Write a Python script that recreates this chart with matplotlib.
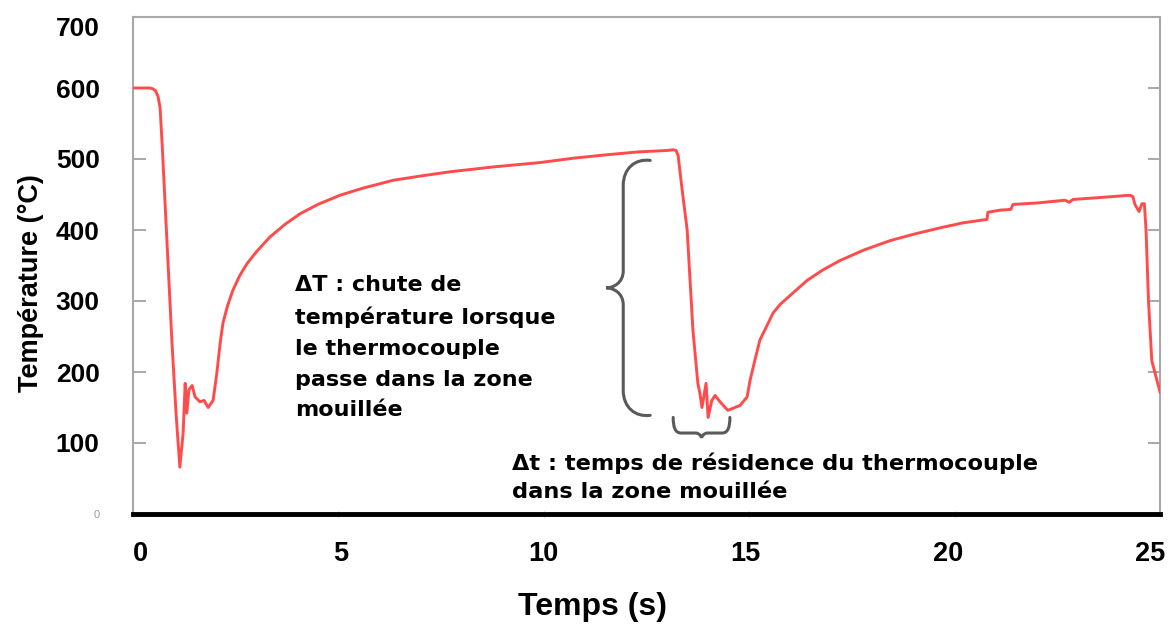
import matplotlib
matplotlib.use("Agg")
import matplotlib.pyplot as plt
import matplotlib.transforms as mtransforms
from matplotlib.path import Path
from matplotlib.patches import PathPatch

# ---- data ----
time_s = [0.00, 0.41, 0.48, 0.55, 0.61, 0.66, 0.71, 0.83, 0.95, 1.05, 1.14, 1.22, 1.27,
          1.31, 1.36, 1.44, 1.51, 1.63, 1.73, 1.83, 1.95, 2.04, 2.12, 2.19, 2.30,
          2.43, 2.60, 2.78, 3.00, 3.33, 3.70, 4.07, 4.50, 5.04, 5.60, 6.33, 7.00,
          7.72, 8.80, 9.91, 10.70, 11.54, 12.30, 13.00, 13.15, 13.22,
          13.27, 13.34, 13.39, 13.49, 13.63, 13.75, 13.80, 13.85, 13.95, 14.00,
          14.09, 14.17, 14.29, 14.48, 14.78, 14.95, 15.02, 15.14, 15.26, 15.43,
          15.58, 15.75, 16.00, 16.41, 16.80, 17.21, 17.80, 18.43, 19.00, 19.64,
          20.20, 20.79, 20.81, 21.11, 21.37, 21.42, 22.00, 22.69, 22.79, 22.88,
          23.60, 24.27, 24.34, 24.39, 24.49, 24.56, 24.62, 24.66, 24.72, 24.80, 25.00]
temp_c = [600, 600, 599, 596, 588, 572, 520, 380, 240, 140, 66, 114, 184,
          142, 175, 181, 165, 158, 160, 150, 160, 198, 240, 269, 293,
          315, 336, 353, 369, 390, 408, 423, 436, 449, 459, 470, 476,
          482, 489, 495, 501, 506, 510, 512, 513, 512,
          505, 470, 446, 400, 259, 184, 170, 150, 184, 136,
          160, 167, 158, 146, 153, 165, 188, 217, 245, 265,
          283, 295, 308, 329, 344, 357, 372, 385, 394, 403,
          410, 415, 425, 428, 429, 436, 438, 442, 439, 443,
          446, 449, 447, 436, 426, 437, 437, 400, 300, 216, 172]

x_ticks = [0, 5, 10, 15, 20, 25]
y_ticks = [0, 100, 200, 300, 400, 500, 600, 700]

x_label = "Temps (s)"
y_label = "Température (°C)"
note_dT = "ΔT : chute de\ntempérature lorsque\nle thermocouple\npasse dans la zone\nmouillée"
note_dt = "Δt : temps de résidence du thermocouple\ndans la zone mouillée"

# brace extents (data units)
dT_brace = dict(x_tip=11.52, x_end=12.59, y_low=139, y_high=498)
dt_brace = dict(x_left=13.15, x_right=14.53, y_top=136, y_tip=107)

# ---- figure ----
W, H = 1173, 628
fig = plt.figure(figsize=(W / 100, H / 100), dpi=100)
ax_l, ax_r, ax_t, ax_b = 133, 1160, 17, 514
ax = fig.add_axes([ax_l / W, 1 - ax_b / H, (ax_r - ax_l) / W, (ax_b - ax_t) / H])
ax.set_xlim(0, 25)
ax.set_ylim(0, 700)
sx = (ax_r - ax_l) / 25.0   # px per second
sy = (ax_b - ax_t) / 700.0  # px per degC

ax.plot(time_s, temp_c, color="#ff4b4b", lw=2.1, solid_joinstyle="round", zorder=3)

# spines
for s in ("top", "left", "right"):
    ax.spines[s].set_color("#a8a8a8")
    ax.spines[s].set_linewidth(1.5)
ax.spines["bottom"].set_color("black")
ax.spines["bottom"].set_linewidth(3.5)
ax.spines["bottom"].set_zorder(5)

ax.set_xticks(x_ticks)
ax.set_yticks(y_ticks)
ax.set_xticklabels([str(v) for v in x_ticks])
ax.set_yticklabels([str(v) for v in y_ticks])
ax.tick_params(axis="y", direction="in", length=9, width=1.2, color="#999999",
               right=True, labelsize=19, pad=24)
ax.tick_params(axis="x", direction="inout", length=5, width=1, color="#c8c8c8",
               labelsize=19.5, pad=17)
for lab in ax.get_xticklabels() + ax.get_yticklabels():
    lab.set_fontfamily("Liberation Sans")
    lab.set_fontweight("bold")
zero_lab = ax.get_yticklabels()[0]
zero_lab.set_fontsize(8)
zero_lab.set_fontweight("normal")
zero_lab.set_color("#9a9a9a")
top_lab = ax.get_yticklabels()[-1]
top_lab.set_va("top")

# small horizontal nudges of the x tick labels, as in the reference
x_nudge_px = [7, 2, 0, -4, -6, -10]
for lab, nud in zip(ax.get_xticklabels(), x_nudge_px):
    lab.set_transform(lab.get_transform() +
                      mtransforms.ScaledTranslation(nud / 100, 0, fig.dpi_scale_trans))

ax.set_xlabel(x_label, fontsize=23, fontweight="bold", family="Liberation Sans")
ax.xaxis.label.set_va("center")
ax.xaxis.set_label_coords((593 - ax_l) / (ax_r - ax_l), -(607 - ax_b) / (ax_b - ax_t))
ax.set_ylabel(y_label, fontsize=19.5, fontweight="bold", family="Liberation Sans")
ax.yaxis.label.set_va("center")
ax.yaxis.set_label_coords(-(ax_l - 31) / (ax_r - ax_l), (ax_b - 283) / (ax_b - ax_t))

# annotations
ax.text(3.94, 336, note_dT, ha="left", va="top", fontsize=16, fontweight="bold",
        family="DejaVu Sans", linespacing=1.66, color="black")
ax.text(9.23, 87, note_dt, ha="left", va="top", fontsize=16.2, fontweight="bold",
        family="DejaVu Sans", linespacing=1.5, color="black", clip_on=False)

# vertical brace (pixel-sized curvature converted to data units)
b = dT_brace
dx = lambda p: p / sx
dy = lambda p: p / sy
x_sp = b["x_tip"] + dx(17)
y_mid = (b["y_low"] + b["y_high"]) / 2
verts = [
    (b["x_end"], b["y_high"]),
    (b["x_end"] - dx(15), b["y_high"] + dy(2)), (x_sp, b["y_high"] - dy(8)), (x_sp, b["y_high"] - dy(25)),
    (x_sp, y_mid + dy(17)),
    (x_sp, y_mid + dy(5)), (b["x_tip"] + dx(7), y_mid), (b["x_tip"], y_mid),
    (b["x_tip"] + dx(7), y_mid), (x_sp, y_mid - dy(5)), (x_sp, y_mid - dy(17)),
    (x_sp, b["y_low"] + dy(25)),
    (x_sp, b["y_low"] + dy(8)), (b["x_end"] - dx(15), b["y_low"] - dy(2)), (b["x_end"], b["y_low"]),
]
codes = [Path.MOVETO] + [Path.CURVE4] * 3 + [Path.LINETO] + [Path.CURVE4] * 6 + [Path.LINETO] + [Path.CURVE4] * 3
ax.add_patch(PathPatch(Path(verts, codes), fill=False, edgecolor="#5a5a5a", lw=2.2,
                       capstyle="round", zorder=4))

# horizontal brace
c = dt_brace
y_sp = c["y_tip"] + dy(5)
x_mid = (c["x_left"] + c["x_right"]) / 2
verts2 = [
    (c["x_left"], c["y_top"]),
    (c["x_left"], c["y_top"] - dy(10)), (c["x_left"] + dx(2), y_sp), (c["x_left"] + dx(8), y_sp),
    (x_mid - dx(6), y_sp),
    (x_mid - dx(2), y_sp), (x_mid, c["y_tip"] + dy(1)), (x_mid, c["y_tip"]),
    (x_mid, c["y_tip"] + dy(1)), (x_mid + dx(2), y_sp), (x_mid + dx(6), y_sp),
    (c["x_right"] - dx(8), y_sp),
    (c["x_right"] - dx(2), y_sp), (c["x_right"], c["y_top"] - dy(10)), (c["x_right"], c["y_top"]),
]
ax.add_patch(PathPatch(Path(verts2, codes), fill=False, edgecolor="#5a5a5a", lw=2.2,
                       capstyle="round", zorder=4))

fig.savefig("out.png", dpi=100)
